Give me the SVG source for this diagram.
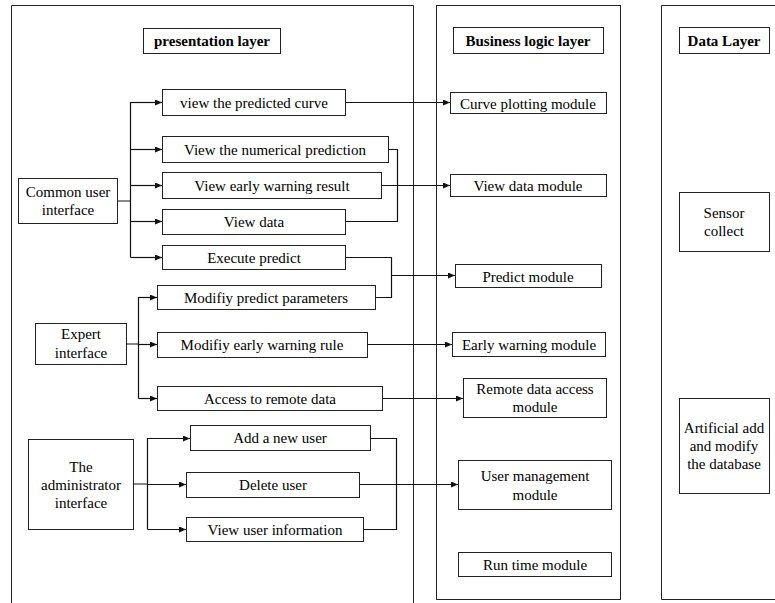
<svg xmlns="http://www.w3.org/2000/svg" width="775" height="603" viewBox="0 0 775 603">
<style>
.box{fill:#fff;stroke:#222;stroke-width:1}
.lay{fill:none;stroke:#222;stroke-width:1}
.t{font-family:"Liberation Serif","Times New Roman",serif;font-size:15px;fill:#000;text-anchor:middle}
.b{font-weight:bold}
.c{fill:none;stroke:#111;stroke-width:1.2}
</style>
<defs>
<marker id="ar" markerUnits="userSpaceOnUse" markerWidth="8" markerHeight="6" refX="7" refY="3" orient="auto">
<path d="M0,0 L7,3 L0,6 Z" fill="#111"/>
</marker>
</defs>
<rect width="775" height="603" fill="#fff"/>
<g id="layers">
<path class="lay" d="M11.5,610 V5.5 H413.5 V610"/>
<rect class="lay" x="436.5" y="5.5" width="184" height="594"/>
<path class="lay" d="M780,5.5 H661.5 V599.5 H780"/>
</g>
<g id="title-presentation"><rect class="box" x="143.5" y="28.5" width="137" height="25"/><text class="t b" x="212" y="46">presentation layer</text></g>
<g id="title-business"><rect class="box" x="453.5" y="27.5" width="150" height="26"/><text class="t b" x="528" y="45.5">Business logic layer</text></g>
<g id="title-data"><rect class="box" x="679.5" y="27.5" width="90" height="26"/><text class="t b" x="724" y="45.5">Data Layer</text></g>

<g id="common-user"><rect class="box" x="18.5" y="178.5" width="99" height="45"/><text class="t" x="68" y="197">Common user</text><text class="t" x="68" y="215">interface</text></g>
<g id="view-curve"><rect class="box" x="162.5" y="89.5" width="183" height="26"/><text class="t" x="254" y="107.5">view the predicted curve</text></g>
<g id="view-numerical"><rect class="box" x="162.5" y="136.5" width="226" height="26"/><text class="t" x="275" y="154.5">View the numerical prediction</text></g>
<g id="view-warning"><rect class="box" x="162.5" y="172.5" width="219" height="26"/><text class="t" x="272" y="190.5">View early warning result</text></g>
<g id="view-data"><rect class="box" x="162.5" y="209.5" width="183" height="25"/><text class="t" x="254" y="227">View data</text></g>
<g id="execute-predict"><rect class="box" x="162.5" y="245.5" width="183" height="24"/><text class="t" x="254" y="262.5">Execute predict</text></g>

<g id="expert"><rect class="box" x="35.5" y="323.5" width="91" height="41"/><text class="t" x="81" y="339">Expert</text><text class="t" x="81" y="358">interface</text></g>
<g id="modify-params"><rect class="box" x="157.5" y="285.5" width="218" height="24"/><text class="t" x="266" y="302.5">Modifiy predict parameters</text></g>
<g id="modify-rule"><rect class="box" x="157.5" y="332.5" width="210" height="25"/><text class="t" x="262" y="350">Modifiy early warning rule</text></g>
<g id="access-remote"><rect class="box" x="157.5" y="386.5" width="225" height="24"/><text class="t" x="270" y="403.5">Access to remote data</text></g>

<g id="admin"><rect class="box" x="28.5" y="439.5" width="105" height="90"/><text class="t" x="81" y="472">The</text><text class="t" x="81" y="490">administrator</text><text class="t" x="81" y="508">interface</text></g>
<g id="add-user"><rect class="box" x="190.5" y="425.5" width="180" height="25"/><text class="t" x="280" y="443">Add a new user</text></g>
<g id="delete-user"><rect class="box" x="186.5" y="472.5" width="173" height="25"/><text class="t" x="273" y="490">Delete user</text></g>
<g id="view-user-info"><rect class="box" x="186.5" y="517.5" width="177" height="24"/><text class="t" x="275" y="534.5">View user information</text></g>

<g id="curve-module"><rect class="box" x="450.5" y="92.5" width="156" height="21"/><text class="t" x="528" y="108.5">Curve plotting module</text></g>
<g id="view-data-module"><rect class="box" x="450.5" y="174.5" width="156" height="22"/><text class="t" x="528" y="190.5">View data module</text></g>
<g id="predict-module"><rect class="box" x="455.5" y="264.5" width="146" height="23"/><text class="t" x="528" y="281.5">Predict module</text></g>
<g id="warning-module"><rect class="box" x="452.5" y="332.5" width="153" height="24"/><text class="t" x="529" y="349.5">Early warning module</text></g>
<g id="remote-module"><rect class="box" x="463.5" y="378.5" width="143" height="39"/><text class="t" x="535" y="394">Remote data access</text><text class="t" x="535" y="412">module</text></g>
<g id="user-mgmt-module"><rect class="box" x="458.5" y="460.5" width="153" height="49"/><text class="t" x="535" y="481">User management</text><text class="t" x="535" y="500">module</text></g>
<g id="runtime-module"><rect class="box" x="458.5" y="552.5" width="153" height="24"/><text class="t" x="535" y="569.5">Run time module</text></g>

<g id="sensor"><rect class="box" x="679.5" y="192.5" width="90" height="59"/><text class="t" x="724" y="218">Sensor</text><text class="t" x="724" y="236">collect</text></g>
<g id="artificial"><rect class="box" x="679.5" y="398.5" width="90" height="95"/><text class="t" x="724" y="433">Artificial add</text><text class="t" x="724" y="451">and modify</text><text class="t" x="724" y="469">the database</text></g>

<g id="connectors">
<path class="c" d="M117,201 H130.5 M130.5,102 V257.5"/>
<path class="c" d="M130.5,102.5 H162" marker-end="url(#ar)"/>
<path class="c" d="M130.5,149.5 H162" marker-end="url(#ar)"/>
<path class="c" d="M130.5,185.5 H162" marker-end="url(#ar)"/>
<path class="c" d="M130.5,221.5 H162" marker-end="url(#ar)"/>
<path class="c" d="M130.5,257.5 H162" marker-end="url(#ar)"/>

<path class="c" d="M126,344 H138.5 M138.5,297 V398.5"/>
<path class="c" d="M138.5,297.5 H157" marker-end="url(#ar)"/>
<path class="c" d="M138.5,344.5 H157" marker-end="url(#ar)"/>
<path class="c" d="M138.5,398.5 H157" marker-end="url(#ar)"/>

<path class="c" d="M133,484 H147.5 M147.5,438 V529.5"/>
<path class="c" d="M147.5,438.5 H190" marker-end="url(#ar)"/>
<path class="c" d="M147.5,484.5 H186" marker-end="url(#ar)"/>
<path class="c" d="M147.5,529.5 H186" marker-end="url(#ar)"/>

<path class="c" d="M345,102.5 H450" marker-end="url(#ar)"/>
<path class="c" d="M388,149.5 H397.5 V221.5 H345"/>
<path class="c" d="M381,185.5 H450" marker-end="url(#ar)"/>
<path class="c" d="M345,257.5 H391.5 V297.5 H375"/>
<path class="c" d="M391.5,275.5 H455" marker-end="url(#ar)"/>
<path class="c" d="M367,344.5 H452" marker-end="url(#ar)"/>
<path class="c" d="M382,398.5 H463" marker-end="url(#ar)"/>
<path class="c" d="M370,438.5 H396.5 V529.5 H363"/>
<path class="c" d="M359,484.5 H458" marker-end="url(#ar)"/>
</g>
</svg>
